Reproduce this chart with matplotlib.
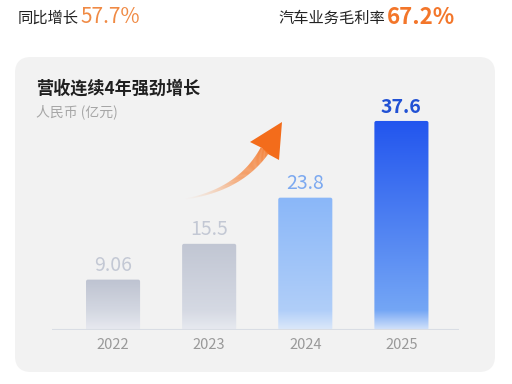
import numpy as np
import matplotlib
matplotlib.use("Agg")
import matplotlib.pyplot as plt
from matplotlib.patches import FancyBboxPatch, Polygon
from matplotlib.collections import LineCollection
from matplotlib.colors import to_rgba

plt.rcParams['font.family'] = ['Noto Sans CJK SC', 'DejaVu Sans']

# ---- data ----
years = ["2022", "2023", "2024", "2025"]
revenue = [9.06, 15.5, 23.8, 37.6]
value_labels = ["9.06", "15.5", "23.8", "37.6"]
title = "营收连续4年强劲增长"
unit = "人民币 (亿元)"
kpi1_label, kpi1_value = "同比增长", "57.7%"
kpi2_label, kpi2_value = "汽车业务毛利率", "67.2%"

# styles: bottom, just above fade, top
bar_grad = [
    ["#E8EAF0", "#D3D7E1", "#BEC3D1"],
    ["#E8EAF0", "#D5D9E3", "#C1C6D3"],
    ["#DDE9FA", "#B0CEF9", "#8AB7F8"],
    ["#D4E3FA", "#74A6F5", "#2255EE"],
]
label_colors = ["#C3C8D4", "#C3C8D4", "#7CA9F0", "#2151D4"]

W, H = 512, 384
fig = plt.figure(figsize=(W / 100, H / 100), dpi=100)
fig.patch.set_facecolor("white")

# background axes (pixel coords)
bg = fig.add_axes([0, 0, 1, 1], zorder=0)
bg.set_xlim(0, W); bg.set_ylim(H, 0); bg.axis("off")
panel = FancyBboxPatch((15, 57), 480, 315, boxstyle="round,pad=0,rounding_size=16",
                       facecolor="#F2F2F2", edgecolor="none")
bg.add_patch(panel)

# main bar axes
ax_left, ax_right = 52, 459
ax_bottom, ax_top = 330, 100
ax = fig.add_axes([ax_left / W, (H - ax_bottom) / H, (ax_right - ax_left) / W,
                   (ax_bottom - ax_top) / H], zorder=1)
ax.patch.set_alpha(0)
x = np.arange(len(years))
bw = 0.5625
bars = ax.bar(x, revenue, width=bw, color="none", edgecolor="none")
ymax = (ax_bottom - ax_top) / 5.56
xlim = (-0.635, 3.599)
for i, (b, v) in enumerate(zip(bars, revenue)):
    stops = [to_rgba(c) for c in bar_grad[i]]
    n = 300
    t = np.linspace(0, 1, n)
    fade = min(3.5 / v, 0.5)
    pos = [0, fade, 1.0]
    rgba = np.zeros((n, 1, 4))
    for k in range(4):
        rgba[:, 0, k] = np.interp(t, pos, [s[k] for s in stops])
    rgba = rgba[::-1]
    patch = FancyBboxPatch((b.get_x(), 0), bw, v, boxstyle="round,pad=0,rounding_size=0.02",
                           mutation_aspect=ymax / (xlim[1] - xlim[0]) * (407 / 230),
                           facecolor="none", edgecolor="none")
    ax.add_patch(patch)
    im = ax.imshow(rgba, extent=[b.get_x(), b.get_x() + bw, 0, v], aspect="auto",
                   interpolation="bilinear", zorder=2)
    im.set_clip_path(patch)
    ax.annotate(value_labels[i], (x[i], v), xytext=(0, 6), textcoords="offset points",
                ha="center", va="baseline", fontsize=14,
                color=label_colors[i], fontweight="bold" if i == 3 else "medium")
ax.set_xlim(*xlim)
ax.set_ylim(0, ymax)
ax.axhline(0, color="#D9DDE4", lw=1.5, zorder=3)
for s in ax.spines.values():
    s.set_visible(False)
ax.set_yticks([])
ax.set_xticks(x)
ax.set_xticklabels(years, fontsize=10.5, color="#999999")
ax.tick_params(axis="x", length=0, pad=6)

# overlay (pixel coords) for texts and arrow
ov = fig.add_axes([0, 0, 1, 1], zorder=3)
ov.set_xlim(0, W); ov.set_ylim(H, 0); ov.axis("off"); ov.patch.set_alpha(0)

ov.text(18, 18, kpi1_label, fontsize=11, color="#222222", va="center", ha="left")
ov.text(80, 17, kpi1_value, fontsize=15, color="#F08A44", va="center", ha="left",
        fontweight="medium")
ov.text(278, 18, kpi2_label, fontsize=11, color="#222222", va="center", ha="left")
ov.text(387, 17, kpi2_value, fontsize=16, color="#F3762A", va="center", ha="left",
        fontweight="bold")
ov.text(36, 89, title, fontsize=12.3, color="#1F1F1F", va="center", ha="left",
        fontweight="bold")
ov.text(36, 112, unit, fontsize=10, color="#A6A6A6", va="center", ha="left")

# arrow (quadratic bezier body with gradient + head)
P0 = np.array([185, 199]); P1 = np.array([240, 190]); P2 = np.array([265, 150])
tt = np.linspace(0, 1, 120)
pts = ((1 - tt)[:, None] ** 2) * P0 + (2 * (1 - tt) * tt)[:, None] * P1 + (tt ** 2)[:, None] * P2
segs = np.stack([pts[:-1], pts[1:]], axis=1)
tm = (tt[:-1] + tt[1:]) / 2
c0 = np.array(to_rgba("#F8C9A6")); c1 = np.array(to_rgba("#F47525"))
cols = c0[None, :] * (1 - tm[:, None]) + c1[None, :] * tm[:, None]
cols[:, 3] = np.clip(tm * 1.7, 0, 1) ** 1.1
widths = (1.0 + 9.0 * tm ** 1.3) * 0.72
lc = LineCollection(segs, colors=cols, linewidths=widths, capstyle="butt")
ov.add_collection(lc)
head = Polygon([[282, 122], [250, 142], [262, 148], [268, 154], [279, 160]], closed=True,
               facecolor="#F36C1B", edgecolor="none")
ov.add_patch(head)

fig.savefig("out.png", dpi=100, facecolor="white")
